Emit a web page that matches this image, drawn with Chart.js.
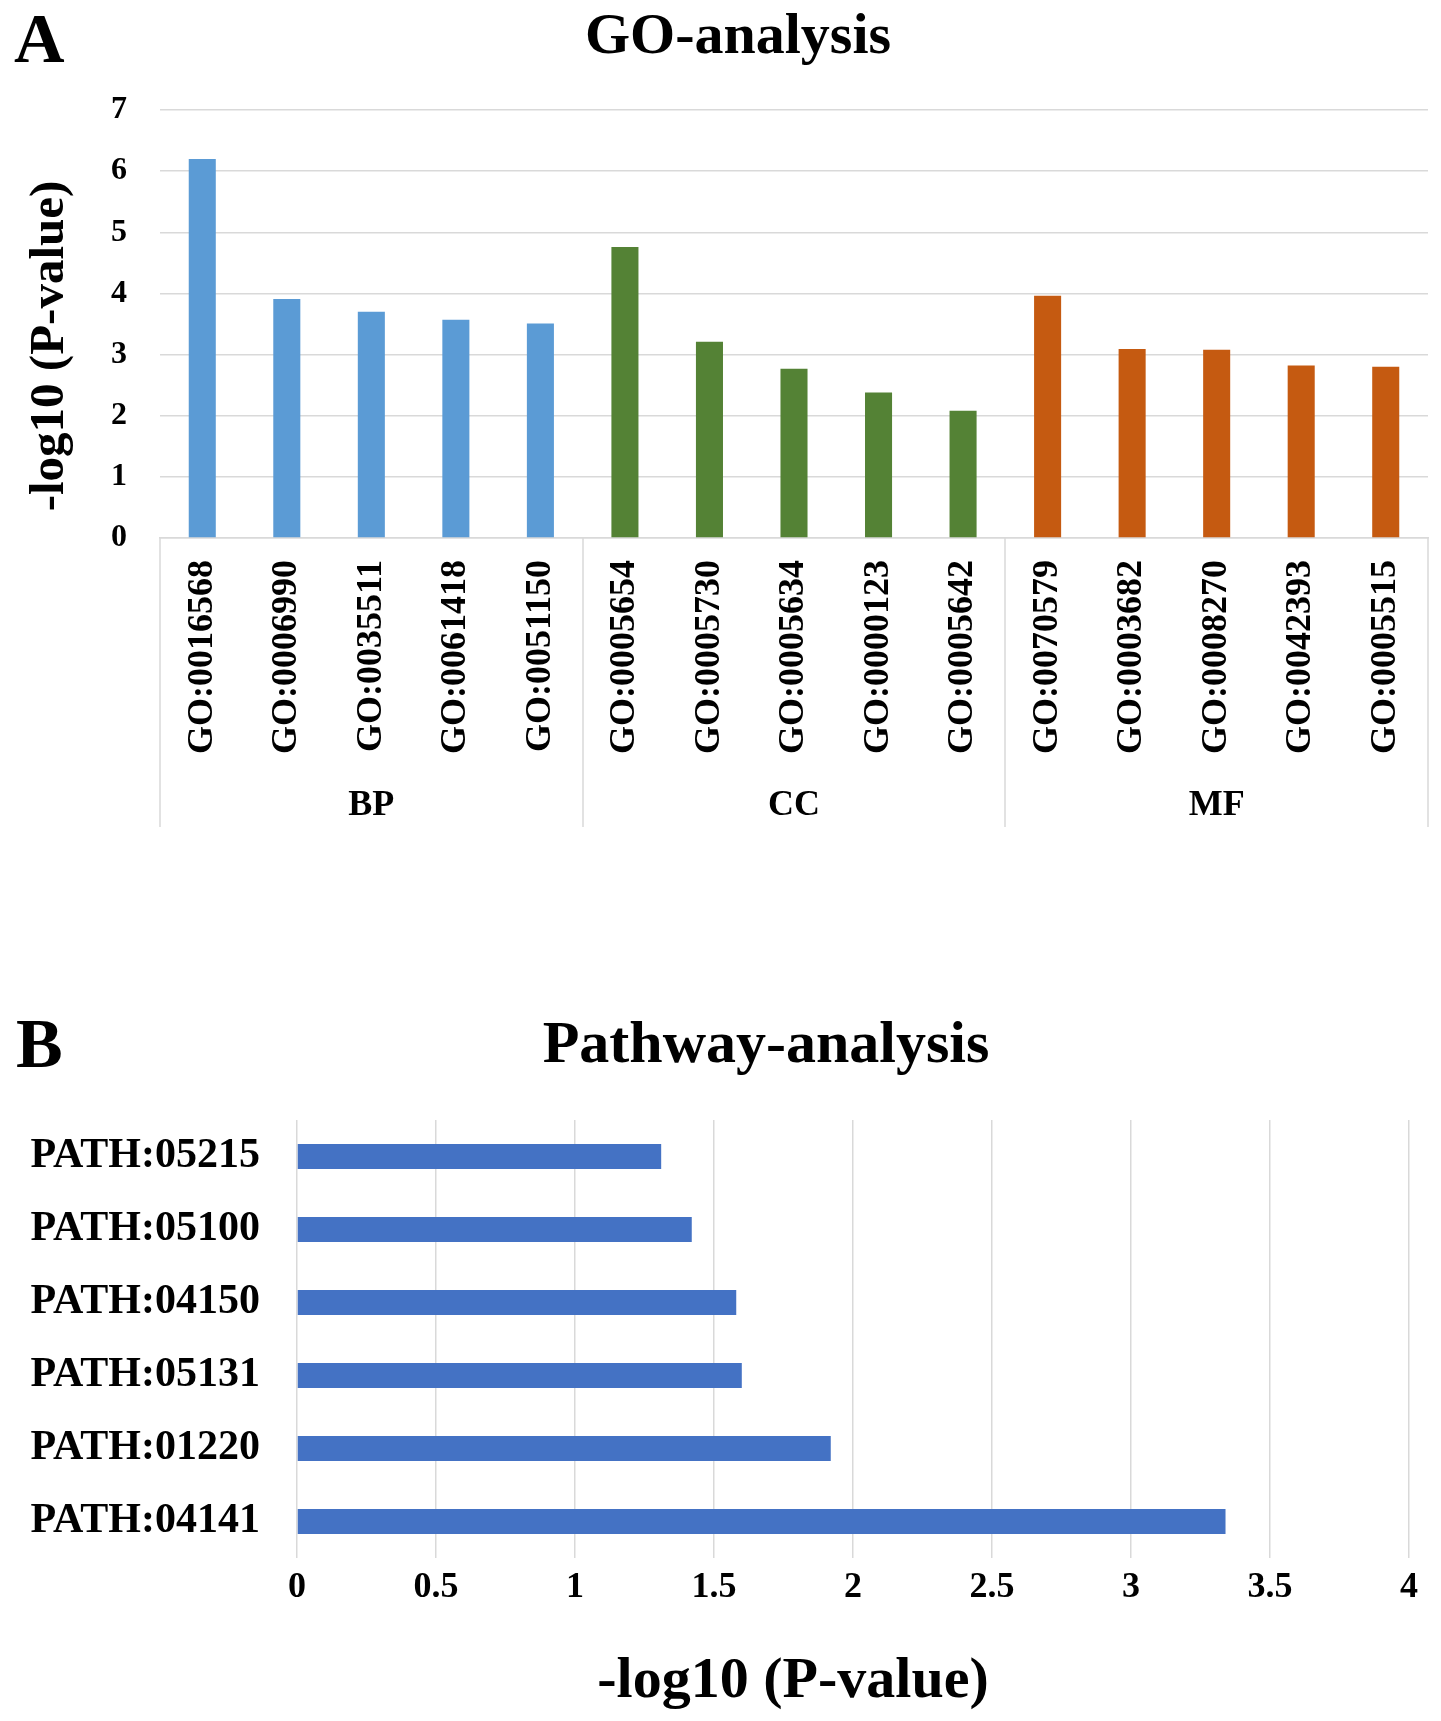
<!DOCTYPE html>
<html>
<head>
<meta charset="utf-8">
<script src="https://cdn.jsdelivr.net/npm/chart.js@4.4.1/dist/chart.umd.min.js"></script>
<style>
  html, body { margin: 0; padding: 0; background: #fff; }
  #wrapA { position: absolute; left: 0; top: 0; width: 1441px; height: 900px; }
  #wrapB { position: absolute; left: 0; top: 1000px; width: 1441px; height: 721px; }
</style>
</head>
<body>
<div id="wrapA"><canvas id="goChart" width="1441" height="900"></canvas></div>
<div id="wrapB"><canvas id="pathChart" width="1441" height="721"></canvas></div>
<script>
// ===== data =====
const goTerms = ["GO:0016568", "GO:0006990", "GO:0035511", "GO:0061418", "GO:0051150",
                 "GO:0005654", "GO:0005730", "GO:0005634", "GO:0000123", "GO:0005642",
                 "GO:0070579", "GO:0003682", "GO:0008270", "GO:0042393", "GO:0005515"];
const goValues = [6.20, 3.91, 3.70, 3.57, 3.51, 4.76, 3.21, 2.77, 2.38, 2.08, 3.96, 3.09, 3.08, 2.82, 2.80];
const goGroups = ["BP", "BP", "BP", "BP", "BP", "CC", "CC", "CC", "CC", "CC", "MF", "MF", "MF", "MF", "MF"];
const groupNames = ["BP", "CC", "MF"];
const groupColors = { BP: "#5B9BD5", CC: "#548235", MF: "#C55A11" };
const goAxisMax = 7;

const pathTerms = ["PATH:05215", "PATH:05100", "PATH:04150", "PATH:05131", "PATH:01220", "PATH:04141"];
const pathValues = [1.31, 1.42, 1.58, 1.60, 1.92, 3.34];
const pathAxisMax = 4;
const pathStep = 0.5;

const SERIF = "'Liberation Serif', 'Times New Roman', serif";
const GRID = "#d9d9d9";

// ===== texte fixe (lettres, titres) =====
const textPlugin = {
  id: "fixedText",
  afterDraw(chart, args, opts) {
    const ctx = chart.ctx;
    (opts.items || []).forEach(t => {
      ctx.save();
      ctx.font = "bold " + t.size + "px " + SERIF;
      ctx.fillStyle = "#000";
      ctx.textAlign = t.align || "center";
      ctx.textBaseline = t.baseline || "alphabetic";
      ctx.translate(t.x, t.y);
      if (t.rotate) ctx.rotate(t.rotate);
      ctx.fillText(t.text, 0, 0);
      ctx.restore();
    });
  }
};

// ===== groupes BP / CC / MF sous l'axe =====
const groupPlugin = {
  id: "goGroups",
  afterDraw(chart) {
    const ctx = chart.ctx;
    const x = chart.scales.x;
    const step = (x.right - x.left) / goTerms.length;
    const top = chart.chartArea.bottom;
    ctx.save();
    ctx.strokeStyle = GRID;
    ctx.lineWidth = 1.5;
    ctx.fillStyle = "#000";
    ctx.font = "bold 36px " + SERIF;
    ctx.textAlign = "center";
    ctx.textBaseline = "alphabetic";
    const edges = [];
    groupNames.forEach(g => {
      const first = goGroups.indexOf(g);
      const last = goGroups.lastIndexOf(g);
      const x0 = x.getPixelForValue(first) - step / 2;
      const x1 = x.getPixelForValue(last) + step / 2;
      edges.push(x0, x1);
      ctx.fillText(g, (x.getPixelForValue(first) + x.getPixelForValue(last)) / 2, 815);
    });
    [...new Set(edges.map(v => Math.round(v)))].forEach(px => {
      ctx.beginPath();
      ctx.moveTo(px, top);
      ctx.lineTo(px, 827);
      ctx.stroke();
    });
    ctx.restore();
  }
};

// ===== Graphique A =====
new Chart(document.getElementById("goChart"), {
  type: "bar",
  data: {
    labels: goTerms,
    datasets: [{
      data: goValues,
      backgroundColor: goGroups.map(g => groupColors[g]),
      categoryPercentage: 1,
      barPercentage: 0.32
    }]
  },
  plugins: [textPlugin, groupPlugin],
  options: {
    responsive: false,
    animation: false,
    layout: { padding: { top: 110, right: 13, left: 0, bottom: 62 } },
    plugins: {
      legend: { display: false },
      tooltip: { enabled: false },
      fixedText: {
        items: [
          { text: "A", x: 14, y: 62, size: 70, align: "left" },
          { text: "GO-analysis", x: 738, y: 53, size: 58 },
          { text: "-log10 (P-value)", x: 50, y: 346, size: 49, rotate: -Math.PI / 2, baseline: "middle" }
        ]
      }
    },
    scales: {
      x: {
        grid: { display: false, drawTicks: false },
        border: { display: true, color: GRID, width: 1.5 },
        ticks: {
          autoSkip: false, minRotation: 90, maxRotation: 90, padding: 22,
          color: "#000", font: { family: SERIF, size: 36, weight: "bold" }
        },
        afterFit(scale) {
          scale.height = 300;
          scale.paddingLeft = 0;
          scale.paddingRight = 0;
        }
      },
      y: {
        min: 0, max: goAxisMax,
        grid: { color: GRID, lineWidth: 1.5, drawTicks: false },
        border: { display: false },
        ticks: {
          stepSize: 1, padding: 33,
          color: "#000", font: { family: SERIF, size: 32, weight: "bold" }
        },
        afterFit(scale) { scale.width = 160; }
      }
    }
  }
});

// ===== Graphique B =====
new Chart(document.getElementById("pathChart"), {
  type: "bar",
  data: {
    labels: pathTerms,
    datasets: [{
      data: pathValues,
      backgroundColor: "#4472C4",
      categoryPercentage: 1,
      barPercentage: 0.34
    }]
  },
  plugins: [textPlugin],
  options: {
    indexAxis: "y",
    responsive: false,
    animation: false,
    layout: { padding: { top: 120, right: 32, left: 0, bottom: 0 } },
    plugins: {
      legend: { display: false },
      tooltip: { enabled: false },
      fixedText: {
        items: [
          { text: "B", x: 16, y: 67, size: 70, align: "left" },
          { text: "Pathway-analysis", x: 766, y: 62, size: 60 },
          { text: "-log10 (P-value)", x: 793, y: 697, size: 58 }
        ]
      }
    },
    scales: {
      x: {
        min: 0, max: pathAxisMax,
        grid: { color: GRID, lineWidth: 1.5, drawTicks: false },
        border: { display: false },
        ticks: {
          stepSize: pathStep, padding: 8,
          callback: v => String(v),
          color: "#000", font: { family: SERIF, size: 36, weight: "bold" }
        },
        afterFit(scale) { scale.height = 163; }
      },
      y: {
        grid: { display: false, drawTicks: false },
        border: { display: false },
        ticks: {
          padding: 37,
          color: "#000", font: { family: SERIF, size: 42, weight: "bold" }
        },
        afterFit(scale) { scale.width = 297; }
      }
    }
  }
});
</script>
</body>
</html>
